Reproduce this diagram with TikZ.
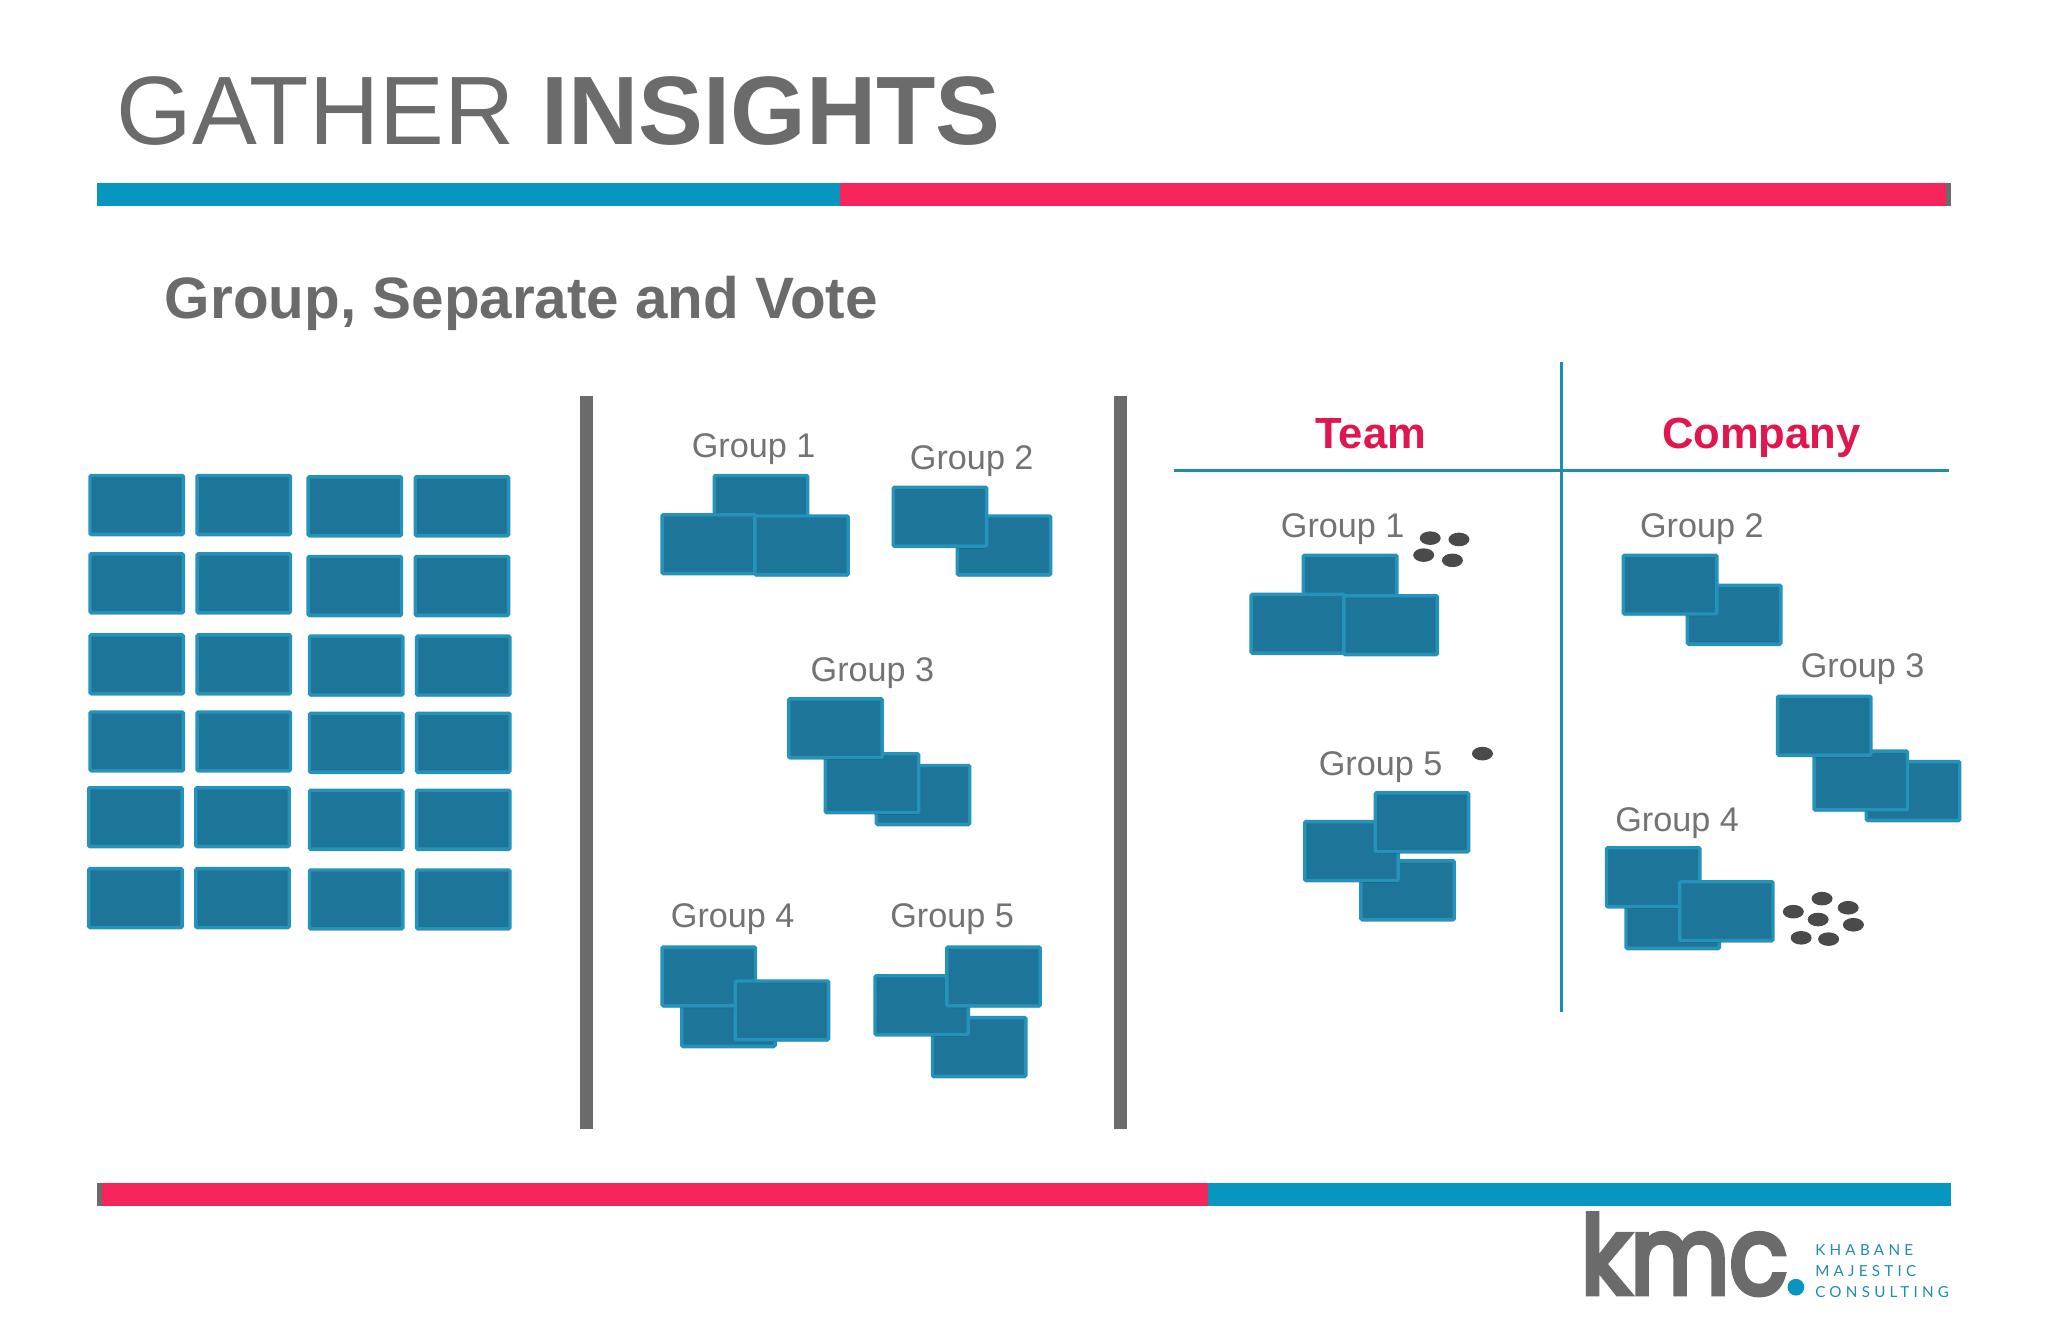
\documentclass[tikz,border=0pt]{standalone}
\usepackage{fontspec}
\setmainfont{Liberation Sans}
\newfontfamily\logofont[FakeBold=5]{Poppins}
\newfontfamily\tagfont[LetterSpace=28]{Lato}
\usetikzlibrary{shadows,shapes.geometric}
\definecolor{stickfill}{HTML}{1D7599}
\definecolor{stickedge}{HTML}{2592BA}
\definecolor{barblue}{HTML}{0796BF}
\definecolor{barred}{HTML}{F5245A}
\definecolor{greytxt}{HTML}{6B6B6B}
\definecolor{labtxt}{HTML}{737373}
\definecolor{headred}{HTML}{E0164F}
\definecolor{rulecol}{HTML}{1E8DAF}
\definecolor{dotcol}{HTML}{4A4A4A}
\tikzset{
  sticky/.style={anchor=north west,inner sep=0pt,outer sep=0pt,minimum width=46.7pt,minimum height=29.4pt,
    xshift=0.6pt,yshift=-0.7pt,
    fill=stickfill,draw=stickedge,line width=1.7pt,rounded corners=0.6pt,
    drop shadow={shadow xshift=0pt,shadow yshift=-1.1pt,opacity=0.2,fill=black}},
  grouplab/.style={anchor=center,inner sep=0pt,text=labtxt,font=\fontsize{17.1}{20}\selectfont},
  head/.style={anchor=base,inner sep=0pt,text=headred,font=\fontsize{21.8}{25}\selectfont\bfseries},
  vote/.style={ellipse,inner sep=0pt,minimum width=10.5pt,minimum height=6.8pt,fill=dotcol,draw=none},
  sep/.style={draw=none,fill=greytxt},
  rulel/.style={draw=rulecol,line width=1.6pt},
  tagline/.style={anchor=base west,inner sep=0pt,text=rulecol,font=\tagfont\fontsize{7.6}{9}\selectfont},
}
\newcommand{\stick}[3]{\node[sticky] (#1) at (#2,#3) {};}
\newcommand{\lab}[4]{\node[grouplab] (#1) at (#2,#3) {#4};}
\newcommand{\vdot}[3]{\node[vote] (#1) at (#2,#3) {};}
\begin{document}
\begin{tikzpicture}[x=0.65306pt,y=-0.65306pt]
\useasboundingbox (0,0) rectangle (1568,1008);
\fill[white] (0,0) rectangle (1568,1008);
% title
\node[anchor=base west,inner sep=0pt,text=greytxt,font=\fontsize{48.6}{56}\selectfont] (title) at (89,111) {GATHER \textbf{INSIGHTS}};
\node[anchor=base west,inner sep=0pt,text=greytxt,font=\fontsize{29.2}{34}\selectfont\bfseries] (sub) at (126,244) {Group, Separate and Vote};
% bars
\fill[greytxt] (1488,140) rectangle (1494,158);
\fill[barred] (643,140) rectangle (1490,158);
\fill[barblue] (74,140) rectangle (643,158);
\fill[greytxt] (74,906) rectangle (80,923);
\fill[barred] (78,906) rectangle (925,923);
\fill[barblue] (925,906) rectangle (1494,923);
% separators
\fill[sep] (444,303) rectangle (454,864);
\fill[sep] (853,303) rectangle (863,864);
% grid
\stick{a1}{68}{363}\stick{a2}{68}{423}\stick{a3}{68}{485}\stick{a4}{68}{544}\stick{a5}{67}{602}\stick{a6}{67}{664}
\stick{b1}{150}{363}\stick{b2}{150}{423}\stick{b3}{150}{485}\stick{b4}{150}{544}\stick{b5}{149}{602}\stick{b6}{149}{664}
\stick{c1}{235}{364}\stick{c2}{235}{425}\stick{c3}{236}{486}\stick{c4}{236}{545}\stick{c5}{236}{604}\stick{c6}{236}{665}
\stick{d1}{317}{364}\stick{d2}{317}{425}\stick{d3}{318}{486}\stick{d4}{318}{545}\stick{d5}{318}{604}\stick{d6}{318}{665}
% middle groups
\lab{m1}{577}{344}{Group 1}
\stick{m1a}{546}{363}\stick{m1b}{506}{393}\stick{m1c}{577}{394}
\lab{m2}{744}{353}{Group 2}
\stick{m2a}{732}{394}\stick{m2b}{683}{372}
\lab{m3}{668}{515}{Group 3}
\stick{m3a}{670}{585}\stick{m3b}{631}{576}\stick{m3c}{603}{534}
\lab{m4}{561}{704}{Group 4}
\stick{m4a}{521}{755}\stick{m4b}{506}{724}\stick{m4c}{562}{750}
\lab{m5}{729}{704}{Group 5}
\stick{m5a}{713}{778}\stick{m5b}{669}{746}\stick{m5c}{724}{724}
% right table
\coordinate (vt) at (1195.5,277);\coordinate (vb) at (1195.5,775);
\coordinate (hl) at (899,360);\coordinate (hr) at (1492,360);
\draw[rulel] (vt) -- (vb);
\draw[rulel] (hl) -- (hr);
\node[head] (team) at (1049.5,343) {Team};
\node[head] (company) at (1348.5,343) {Company};
\lab{t1}{1028}{405}{Group 1}
\stick{t1a}{997}{424}\stick{t1b}{957}{454}\stick{t1c}{1028}{455}
\vdot{v1}{1095}{412}\vdot{v2}{1117}{413}\vdot{v3}{1090}{425}\vdot{v4}{1112}{429}
\lab{t5}{1057}{587}{Group 5}
\stick{t5a}{1041}{658}\stick{t5b}{998}{628}\stick{t5c}{1052}{606}
\vdot{v5}{1135}{577}
\lab{c2l}{1303}{405}{Group 2}
\stick{c2a}{1291}{447}\stick{c2b}{1242}{424}
\lab{c3l}{1426}{512}{Group 3}
\stick{c3a}{1428}{582}\stick{c3b}{1388}{574}\stick{c3c}{1360}{532}
\lab{c4l}{1284}{630}{Group 4}
\stick{c4a}{1244}{680}\stick{c4b}{1229}{648}\stick{c4c}{1285}{674}
\vdot{w1}{1395}{688}\vdot{w2}{1415}{695}\vdot{w3}{1373}{698}\vdot{w4}{1392}{704}\vdot{w5}{1419}{708}\vdot{w6}{1379}{718}\vdot{w7}{1400}{719}
% logo
\node[anchor=base west,inner sep=0pt,text=greytxt,font=\logofont\fontsize{54}{60}\selectfont] (kmc) at (1210,990.5) {\scalebox{0.89}[1]{kmc}};
\fill[barblue] (1375,985.5) circle (6.4);
\node[tagline] (kh) at (1389.5,961) {KHABANE};
\node[tagline] (ma) at (1389.5,977) {MAJESTIC};
\node[tagline] (co) at (1389.5,993) {CONSULTING};
\end{tikzpicture}
\end{document}
